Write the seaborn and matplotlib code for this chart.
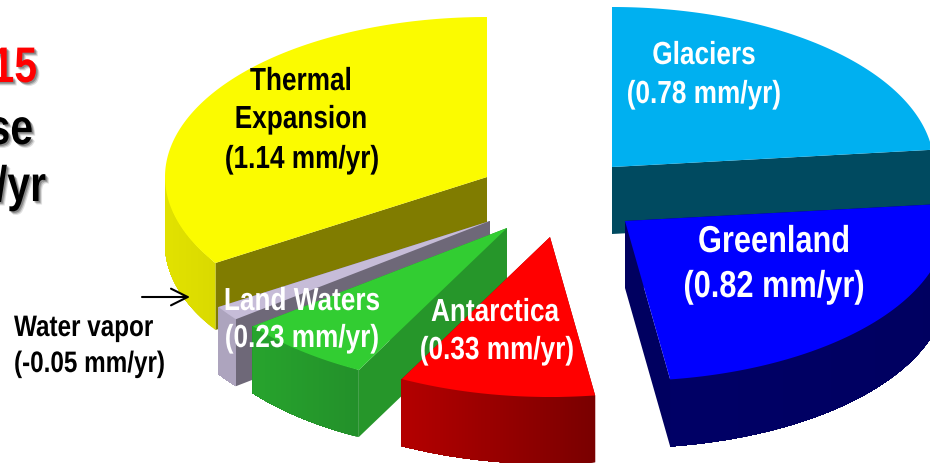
import numpy as np
import matplotlib
matplotlib.use("Agg")
import matplotlib.pyplot as plt
from matplotlib.colors import to_rgb
from matplotlib.patheffects import AbstractPathEffect
from matplotlib.transforms import Affine2D
import seaborn as sns

# Sea level budget components, clockwise from twelve o'clock
components = ["Glaciers", "Greenland", "Antarctica", "Land Waters", "Water vapor", "Thermal Expansion"]
rates = [0.78, 0.82, 0.33, 0.23, -0.05, 1.14]

top_colors = ["#00B0F0", "#0000FF", "#FF0000", "#32CD32", "#C6BCD8", "#FBFB00"]
wall_colors = ["#004A60", "#000060", "#800000", "#26962A", "#6E6878", "#807C00"]
rim_left = ["#004A60", "#000066", "#B40000", "#27A42D", "#ADA4BE", "#E2E200"]
rim_right = ["#004A60", "#000060", "#7A0000", "#23902A", "#ADA4BE", "#DADA00"]

# Apex of each exploded slice on the canvas
apexes = [(612, 168), (625, 222), (550, 238), (507, 229), (490, 222), (487, 178)]
RX, RY, DEPTH = 322, 160, 67
draw_order = [5, 4, 3, 2, 0, 1]
z_of = {idx: 2 + n for n, idx in enumerate(draw_order)}

sns.set_theme(style="white")
plt.rcParams["font.family"] = ["Liberation Sans", "DejaVu Sans"]

fig = plt.figure(figsize=(9.3, 4.64), dpi=100)
ax = fig.add_axes([0, 0, 1, 1])
ax.set_xlim(0, 930)
ax.set_ylim(464, 0)
ax.set_axis_off()

sizes = np.abs(rates)
sweeps = 360 * sizes / sizes.sum()
stops = 90 - np.concatenate([[0], np.cumsum(sweeps)])


class Condensed(AbstractPathEffect):
    """Squeeze glyphs horizontally about a pixel column, optionally with a drop shadow."""

    def __init__(self, anchor, factor=0.82, shadow=False):
        super().__init__()
        self.anchor, self.factor, self.shadow = anchor, factor, shadow

    def draw_path(self, renderer, gc, tpath, affine, rgbFace=None):
        squeeze = Affine2D().translate(-self.anchor, 0).scale(self.factor, 1).translate(self.anchor, 0)
        placed = affine + squeeze
        if self.shadow:
            for off, alpha in ((3.5, 0.15), (2.5, 0.25), (1.5, 0.35)):
                soft = renderer.new_gc()
                soft.copy_properties(gc)
                soft.set_alpha(alpha)
                renderer.draw_path(soft, tpath, placed + Affine2D().translate(off, -off), (0.2, 0.2, 0.2))
                soft.restore()
        renderer.draw_path(gc, tpath, placed, rgbFace)


def rim_point(apex, deg):
    t = np.radians(deg)
    return apex[0] + RX * np.cos(t), apex[1] - RY * np.sin(t)


def draw_slice(i):
    apex, z = apexes[i], z_of[i]
    start, end = stops[i], stops[i + 1]
    # Radial cut faces go first; the top surface hides the ones facing away
    for deg in (start, end):
        x, y = rim_point(apex, deg)
        ax.fill([apex[0], x, x, apex[0]], [apex[1], y, y + DEPTH, apex[1] + DEPTH],
                color=wall_colors[i], lw=0, zorder=z)
    # Outer rim: each band runs to the end of the front arc and is painted over by the next
    arc = np.linspace(start, end, 120)
    xs, ys = rim_point(apex, arc)
    front = np.sin(np.radians(arc)) <= 0.02
    if front.sum() > 1:
        fx, fy = xs[front], ys[front]
        left, right = np.array(to_rgb(rim_left[i])), np.array(to_rgb(rim_right[i]))
        span = max(fx.max() - fx.min(), 1)
        for k in range(len(fx) - 1):
            mix = (fx[k] - fx.min()) / span
            ax.fill(np.r_[fx[k:], fx[k:][::-1]], np.r_[fy[k:], fy[k:][::-1] + DEPTH],
                    color=tuple(left + (right - left) * mix), lw=0, zorder=z)
    ax.fill(np.r_[apex[0], xs], np.r_[apex[1], ys], color=top_colors[i], lw=0, zorder=z)


for idx in draw_order:
    draw_slice(idx)


def rate_label(i):
    return f"({rates[i]:.2f} mm/yr)"


def label(x, y, text, color, size, ha="center", shadow=False):
    ax.text(x, y, text, color=color, fontsize=size, ha=ha, va="center", fontweight="bold", zorder=20,
            path_effects=[Condensed(x, shadow=shadow)])


label(301, 83, "Thermal", "black", 23)
label(301, 121, "Expansion", "black", 23)
label(302, 161, rate_label(5), "black", 23)
label(704, 57, components[0], "white", 23)
label(704, 96, rate_label(0), "white", 23)
label(774, 243, components[1], "white", 27)
label(774, 288, rate_label(1), "white", 27)
label(495, 314, components[2], "white", 23)
label(497, 352, rate_label(2), "white", 23)
label(302, 303, components[3], "white", 23)
label(302, 340, rate_label(3), "white", 23)
label(14, 329, components[4], "black", 21.3, ha="left")
label(14, 365, rate_label(4), "black", 21.3, ha="left")

ax.annotate("", xy=(190, 298), xytext=(142, 298), zorder=21,
            arrowprops=dict(arrowstyle="->,head_length=1.0,head_width=0.5", color="black", lw=1.5,
                            shrinkA=0, shrinkB=0))

# Heading fragments at the left edge
label(37, 70, "15", "#FF0000", 36, ha="right", shadow=True)
label(33, 132, "se", "black", 36, ha="right", shadow=True)
label(46, 189, "/yr", "black", 36, ha="right", shadow=True)

fig.savefig("out.png", dpi=100, facecolor="white")
